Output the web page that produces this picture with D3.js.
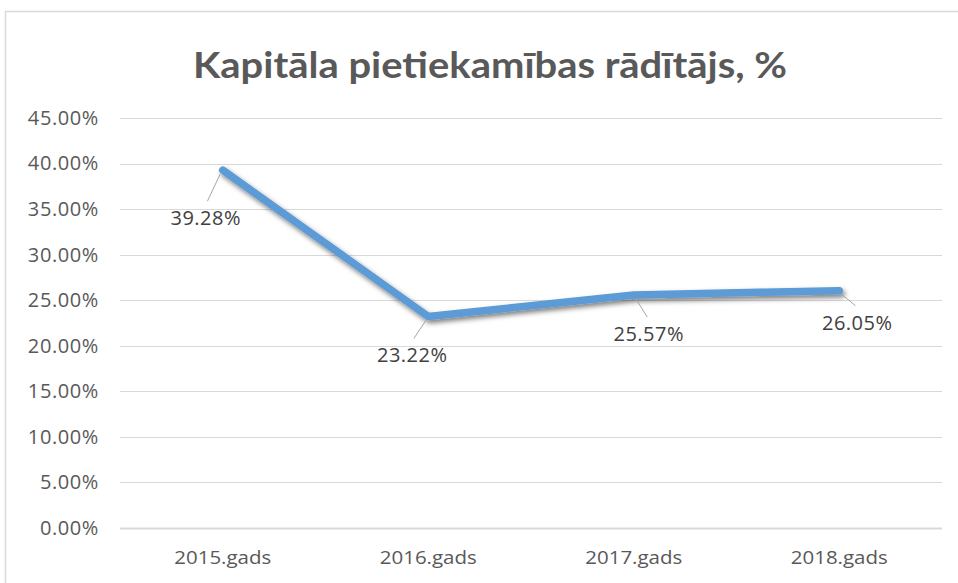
<html>
  <head>
    <meta charset="utf-8" />
    <script src="https://d3js.org/d3.v7.min.js"></script>
  </head>
  <style>
    body { margin: 0; background: #ffffff; }
    svg { display: block; }
    .tick text { font-family: "Open Sans", "Noto Sans", sans-serif; fill: #595959; }
  </style>
  <body>
    <div id="viz"><svg width="958" height="583"></svg></div>
    <script>
      // dati
      const categories = ["2015.gads", "2016.gads", "2017.gads", "2018.gads"];
      const values = [39.28, 23.22, 25.57, 26.05];
      const yTicks = [0, 5, 10, 15, 20, 25, 30, 35, 40, 45];
      const title = "Kapitāla pietiekamības rādītājs, %";

      // etiķešu nobīdes (px) no punkta
      const labelOffsets = [[-17, 55], [-16, 46], [15, 46], [18, 39]];

      const svg = d3.select("svg");
      const plotLeft = 120, plotRight = 942, plotTop = 118, plotBottom = 528;

      // rāmis
      svg.append("rect")
        .attr("x", 5.5).attr("y", 11.5)
        .attr("width", 990).attr("height", 600)
        .attr("fill", "#ffffff")
        .attr("stroke", "#d9d9d9")
        .attr("stroke-width", 1.5);

      const x = d3.scaleBand().domain(categories).range([plotLeft, plotRight]);
      const y = d3.scaleLinear().domain([0, 45]).range([plotBottom, plotTop]);

      // virsraksts
      svg.append("text")
        .attr("x", 490).attr("y", 78)
        .attr("text-anchor", "middle")
        .attr("font-family", "Lato, 'Open Sans', sans-serif")
        .attr("font-weight", "bold")
        .attr("font-size", 37)
        .attr("fill", "#595959")
        .attr("textLength", 594)
        .attr("lengthAdjust", "spacingAndGlyphs")
        .text(title);

      // režģis
      svg.append("g")
        .selectAll("line")
        .data(yTicks)
        .enter()
        .append("line")
        .attr("x1", plotLeft).attr("x2", plotRight)
        .attr("y1", (d) => Math.round(y(d)) + 0.5)
        .attr("y2", (d) => Math.round(y(d)) + 0.5)
        .attr("stroke", "#d9d9d9")
        .attr("stroke-width", (d) => (d === 0 ? 2 : 1));

      // y ass
      const yAxis = d3.axisLeft(y).tickValues(yTicks).tickSize(0).tickPadding(21)
        .tickFormat((d) => d.toFixed(2) + "%");
      const yG = svg.append("g").attr("transform", `translate(${plotLeft},0)`).call(yAxis);
      yG.select(".domain").remove();
      yG.selectAll("text").attr("font-size", 20).attr("letter-spacing", 0.6);

      // x ass
      const xAxis = d3.axisBottom(x).tickSize(0).tickPadding(23);
      const xG = svg.append("g").attr("transform", `translate(0,${plotBottom})`).call(xAxis);
      xG.select(".domain").remove();
      xG.selectAll("text").attr("font-size", 19).attr("textLength", 97).attr("lengthAdjust", "spacingAndGlyphs");

      // ēna
      const defs = svg.append("defs");
      const f = defs.append("filter").attr("id", "shadow")
        .attr("x", "-10%").attr("y", "-20%").attr("width", "130%").attr("height", "160%");
      f.append("feDropShadow")
        .attr("dx", 2).attr("dy", 3).attr("stdDeviation", 2.5)
        .attr("flood-color", "#000000").attr("flood-opacity", 0.5);

      const line = d3.line()
        .x((d, i) => x(categories[i]) + x.bandwidth() / 2)
        .y((d) => y(d));

      svg.append("path")
        .datum(values)
        .attr("d", line)
        .attr("fill", "none")
        .attr("stroke", "#5b9bd5")
        .attr("stroke-width", 7.5)
        .attr("stroke-linejoin", "round")
        .attr("stroke-linecap", "round")
        .attr("filter", "url(#shadow)");

      // datu etiķetes ar līnijām
      const labels = svg.append("g")
        .selectAll("g")
        .data(values)
        .enter()
        .append("g");

      labels.append("line")
        .attr("x1", (d, i) => x(categories[i]) + x.bandwidth() / 2 + labelOffsets[i][0] * 0.15)
        .attr("y1", (d) => y(d) + 4)
        .attr("x2", (d, i) => x(categories[i]) + x.bandwidth() / 2 + labelOffsets[i][0] * 0.9)
        .attr("y2", (d, i) => y(d) + labelOffsets[i][1] - 24)
        .attr("stroke", "#a6a6a6")
        .attr("stroke-width", 1);

      labels.append("text")
        .attr("x", (d, i) => x(categories[i]) + x.bandwidth() / 2 + labelOffsets[i][0])
        .attr("y", (d, i) => y(d) + labelOffsets[i][1])
        .attr("text-anchor", "middle")
        .attr("font-family", "'Open Sans', 'Noto Sans', sans-serif")
        .attr("font-size", 20)
        .attr("fill", "#404040")
        .attr("letter-spacing", 0.5)
        .text((d) => d.toFixed(2) + "%");
    </script>
  </body>
</html>
